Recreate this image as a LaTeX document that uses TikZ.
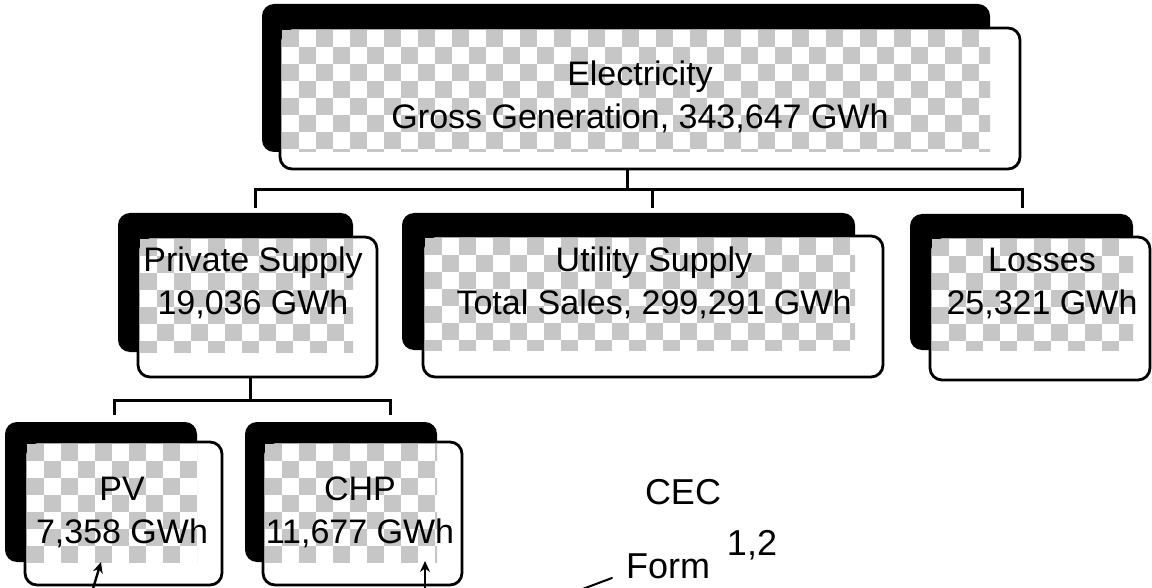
\documentclass[tikz,border=0pt]{standalone}
\usepackage{fontspec}
\setmainfont{Liberation Sans}
\usetikzlibrary{calc,arrows.meta}
\tikzset{
  backbox/.style={fill=black, rounded corners=12pt, inner sep=0pt, outer sep=0pt},
  frontbox/.style={draw=black, line width=2.8pt, fill=white, rounded corners=12pt, inner sep=0pt, outer sep=0pt},
  patfill/.style={fill=gray!45},
  boxtext/.style={font=\fontsize{34}{43}\selectfont, align=center, inner sep=0pt},
  conn/.style={line width=3pt},
  hand/.style={font=\fontsize{36}{36}\selectfont, inner sep=0pt},
  handarrow/.style={line width=2.4pt, -{Stealth[length=11pt,width=10pt]}},
  handline/.style={line width=2pt, line cap=round}
}
\newcommand\orgbox[9]{%
  \node[backbox, anchor=north west, minimum width={(#4-#2)*1pt}, minimum height={(#5-#3)*1pt}] (#1b) at (#2,#3) {};
  \node[frontbox, anchor=north west, minimum width={(#8-#6)*1pt}, minimum height={(#9-#7)*1pt}] (#1) at (#6,#7) {};
  \begin{scope}
    \clip ({#6+2},{#7+2}) rectangle (#4,#5);
    \foreach \pr in {0,...,9}{%
      \pgfmathtruncatemacro\patoff{mod(\pr,2)*17}%
      \foreach \pc in {0,34,...,748}{%
        \fill[patfill] ({#6+2+\pc+\patoff},{#7+2+\pr*17}) rectangle +(17,17);}}
  \end{scope}}
\begin{document}
\begin{tikzpicture}[x=1pt,y=-1pt]
  \useasboundingbox[fill=white] (0,0) rectangle (1152,588);
  % boxes
  \orgbox{top}{262}{4}{990}{152}{280}{28}{1020}{169}
  \orgbox{priv}{118}{213}{353}{352}{138}{237}{377}{377}
  \orgbox{util}{402}{213}{855}{350}{423}{236}{883}{377}
  \orgbox{loss}{910}{214}{1133}{350}{930}{237}{1150}{380}
  \orgbox{pv}{5}{422}{197}{562}{25}{442}{222}{585}
  \orgbox{chp}{245}{422}{437}{562}{263}{442}{462}{585}
  % texts
  \node[boxtext] (topt) at (640,97) {Electricity\\Gross Generation, 343,647 GWh};
  \node[boxtext] (privt) at (253,283) {Private Supply\\19,036 GWh};
  \node[boxtext] (utilt) at (654,283) {Utility Supply\\Total Sales, 299,291 GWh};
  \node[boxtext] (losst) at (1042,283) {Losses\\25,321 GWh};
  \node[boxtext] (pvt) at (122,512) {PV\\7,358 GWh};
  \node[boxtext] (chpt) at (360,512) {CHP\\11,677 GWh};
  % connectors
  \coordinate (j1) at (627,190);
  \coordinate (d1) at (255,208);
  \coordinate (d2) at (652,208);
  \coordinate (d3) at (1022,208);
  \draw[conn] (top.south -| j1) -- (j1);
  \draw[conn] (d1) |- (j1) -| (d3);
  \draw[conn] (d2) -- (d2 |- j1);
  \coordinate (j2) at (250,400);
  \coordinate (e1) at (114,415);
  \coordinate (e2) at (390,415);
  \draw[conn] (priv.south -| j2) -- (j2);
  \draw[conn] (e1) |- (j2) -| (e2);
  % handwriting
  \node[hand] (cec) at (683,492) {CEC};
  \node[hand] (form) at (668,566) {Form};
  \node[hand] (formnum) at (752,545) {1,2};
  \coordinate (fa) at (612,578);
  \coordinate (fb) at (580,590);
  \draw[handline] (fa) -- (fb);
  \coordinate (pa1) at (92,592);
  \coordinate (pa2) at (101,562);
  \draw[handarrow] (pa1) -- (pa2);
  \coordinate (ca1) at (425,592);
  \coordinate (ca2) at (425,561);
  \draw[handarrow] (ca1) -- (ca2);
\end{tikzpicture}
\end{document}
